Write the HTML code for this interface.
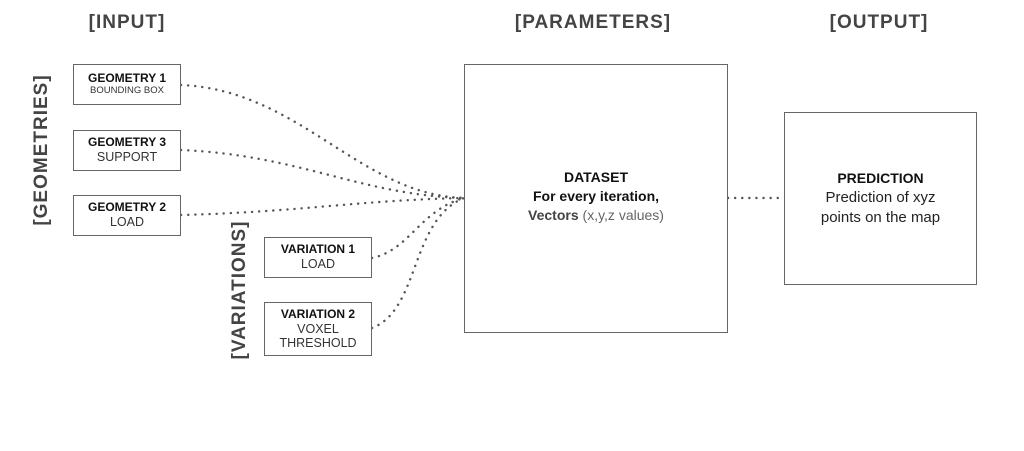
<!DOCTYPE html>
<html><head><style>
body{margin:0;width:1024px;height:451px;background:#fff;position:relative;font-family:"Liberation Sans",sans-serif;overflow:hidden}
.h{position:absolute;font-weight:bold;font-size:19px;color:#444;letter-spacing:1px;transform:translateX(-50%);top:12px}
.b{position:absolute;box-sizing:border-box;border:1.3px solid #666;background:#fff;text-align:center;color:#222;display:flex;flex-direction:column;justify-content:center;line-height:1.15}
.b b{font-size:12px;color:#111}
.s{font-size:12.5px;color:#333}
.r{position:absolute;font-weight:bold;font-size:19px;color:#444;letter-spacing:1px;transform:translate(-50%,-50%) rotate(-90deg);white-space:nowrap}
</style></head><body>
<svg width="1024" height="451" style="position:absolute;left:0;top:0">
<g fill="none" stroke="#555" stroke-width="2.4" stroke-dasharray="0.1 7" stroke-linecap="round">
<path d="M181,85 C300,90 360,195 464,198"/>
<path d="M181,150 C300,155 360,195 464,198"/>
<path d="M181,215 C300,212 360,200 464,198"/>
<path d="M372,258 C410,250 420,210 464,198"/>
<path d="M372,328 C420,310 410,220 464,198"/>
<path d="M728,198 L784,198"/>
</g>
</svg>
<div class="h" style="left:127px">[INPUT]</div>
<div class="h" style="left:593px">[PARAMETERS]</div>
<div class="h" style="left:879px">[OUTPUT]</div>
<div class="r" style="left:42px;top:150px">[GEOMETRIES]</div>
<div class="r" style="left:240px;top:290px">[VARIATIONS]</div>
<div class="b" style="left:73px;top:64px;width:108px;height:41px"><b>GEOMETRY 1</b><span style="font-size:9.5px;color:#333">BOUNDING BOX</span></div>
<div class="b" style="left:73px;top:130px;width:108px;height:41px"><b>GEOMETRY 3</b><span class="s">SUPPORT</span></div>
<div class="b" style="left:73px;top:195px;width:108px;height:41px"><b>GEOMETRY 2</b><span class="s">LOAD</span></div>
<div class="b" style="left:264px;top:237px;width:108px;height:41px"><b>VARIATION 1</b><span class="s">LOAD</span></div>
<div class="b" style="left:264px;top:302px;width:108px;height:54px"><b>VARIATION 2</b><span class="s">VOXEL</span><span class="s">THRESHOLD</span></div>
<div class="b" style="left:464px;top:64px;width:264px;height:269px;font-size:14px;line-height:1.35;padding-bottom:4px"><b style="font-size:14px">DATASET</b><b style="font-size:14px">For every iteration,</b><span style="color:#666"><b style="color:#444;font-size:14px">Vectors</b> (x,y,z values)</span></div>
<div class="b" style="left:784px;top:112px;width:193px;height:173px;font-size:15px;line-height:1.35"><b style="font-size:14px">PREDICTION</b><span>Prediction of xyz</span><span>points on the map</span></div>
</body></html>
